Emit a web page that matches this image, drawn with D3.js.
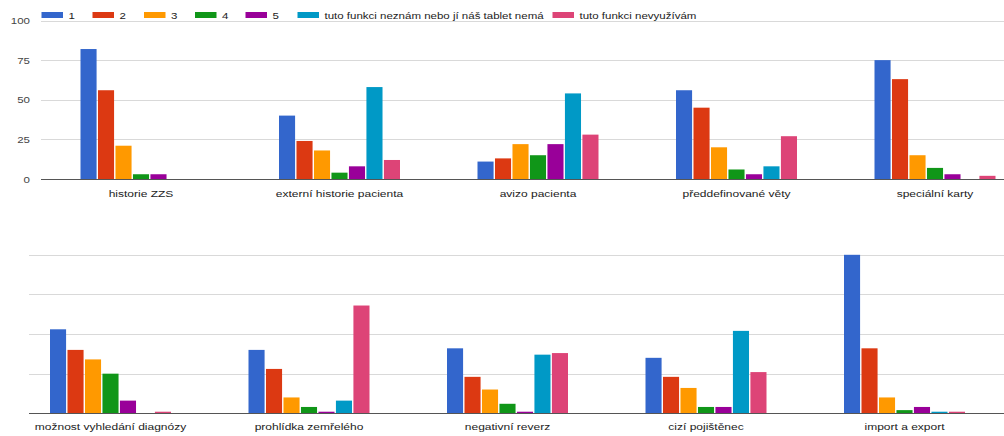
<!DOCTYPE html>
<html>
<head>
<meta charset="utf-8">
<script src="https://cdn.jsdelivr.net/npm/d3@7"></script>
<style>
  html, body { margin: 0; padding: 0; background: #fff; overflow: hidden; }
  svg { display: block; font-family: "Liberation Sans", Arial, sans-serif; }
</style>
</head>
<body>
<svg id="chart" width="1004" height="436"></svg>
<script>
// Answer options (legend order)
const series = ["1", "2", "3", "4", "5", "tuto funkci neznám nebo jí náš tablet nemá", "tuto funkci nevyužívám"];
const colors = ["#3366cc", "#dc3912", "#ff9900", "#109618", "#990099", "#0099c6", "#dd4477"];

// Upper row of features
const categoriesTop = ["historie ZZS", "externí historie pacienta", "avizo pacienta", "předdefinované věty", "speciální karty"];
const valuesTop = [
  [82, 56, 21, 3, 3, 0, 0],
  [40, 24, 18, 4, 8, 58, 12],
  [11, 13, 22, 15, 22, 54, 28],
  [56, 45, 20, 6, 3, 8, 27],
  [75, 63, 15, 7, 3, 0, 2]
];

// Lower row of features
const categoriesBottom = ["možnost vyhledání diagnózy", "prohlídka zemřelého", "negativní reverz", "cizí pojištěnec", "import a export"];
const valuesBottom = [
  [53, 40, 34, 25, 8, 0, 1],
  [40, 28, 10, 4, 1, 8, 68],
  [41, 23, 15, 6, 1, 37, 38],
  [35, 23, 16, 4, 4, 52, 26],
  [100, 41, 10, 2, 4, 1, 1]
];

const yTicks = [0, 25, 50, 75, 100];

const svg = d3.select("#chart");
const W = 1004;
const textScaleY = 0.8;

function label(g, x, y, txt, size, fill, anchor) {
  return g.append("text")
    .attr("transform", `translate(${x},${y}) scale(1,${textScaleY})`)
    .attr("text-anchor", anchor || "start")
    .attr("font-size", size)
    .attr("fill", fill)
    .text(txt);
}

function panel(cfg) {
  const g = svg.append("g");
  const y = d3.scaleLinear().domain([0, 100]).range([cfg.base, cfg.top]);
  const x0 = d3.scaleBand().domain(cfg.categories).range(cfg.xRange).padding(0);
  const groupW = 121;
  const x1 = d3.scaleBand().domain(series)
    .range([(x0.bandwidth() - groupW) / 2, (x0.bandwidth() + groupW) / 2])
    .paddingInner(0.08).paddingOuter(0);

  // gridlines
  g.append("g").selectAll("line")
    .data(yTicks.filter(t => t > 0))
    .join("line")
    .attr("x1", cfg.gridLeft).attr("x2", W)
    .attr("y1", d => Math.round(y(d)) + 0.5).attr("y2", d => Math.round(y(d)) + 0.5)
    .attr("stroke", "#d9d9d9").attr("stroke-width", 1.2);

  // tick labels
  if (cfg.showTicks) {
    yTicks.forEach(t => label(g, 30, y(t) + 3.6, String(t), "11.5px", "#444", "end"));
  }

  // bars
  const groups = g.append("g").selectAll("g")
    .data(cfg.categories.map((c, i) => ({ c, vals: cfg.values[i] })))
    .join("g")
    .attr("transform", d => `translate(${x0(d.c)},0)`);

  groups.selectAll("rect")
    .data(d => d.vals.map((v, j) => ({ v, s: series[j], j })))
    .join("rect")
    .filter(d => d.v > 0)
    .attr("x", d => x1(d.s))
    .attr("width", x1.bandwidth())
    .attr("y", d => y(d.v))
    .attr("height", d => y(0) - y(d.v))
    .attr("fill", d => colors[d.j]);

  // baseline
  g.append("line")
    .attr("x1", cfg.gridLeft).attr("x2", W)
    .attr("y1", Math.round(y(0)) + 0.5).attr("y2", Math.round(y(0)) + 0.5)
    .attr("stroke", "#555").attr("stroke-width", 1.2);

  // category labels
  cfg.categories.forEach(c => {
    label(g, x0(c) + x0.bandwidth() / 2, cfg.labelY, c, "12px", "#222", "middle");
  });
}

panel({
  categories: categoriesTop, values: valuesTop,
  base: 179, top: 20.5, xRange: [41.75, 1034.25],
  gridLeft: 41, showTicks: true, labelY: 197
});

panel({
  categories: categoriesBottom, values: valuesBottom,
  base: 413.3, top: 254.8, xRange: [11.25, 1003.75],
  gridLeft: 29, showTicks: false, labelY: 430
});

// legend
const legend = svg.append("g");
const legendX = [41.5, 92.5, 144, 195, 245.5, 297.5, 552.5];
series.forEach((s, i) => {
  legend.append("rect")
    .attr("x", legendX[i]).attr("y", 12)
    .attr("width", 21.5).attr("height", 6)
    .attr("fill", colors[i]);
  label(legend, legendX[i] + 27, 18.5, s, "11.5px", "#222", "start");
});
</script>
</body>
</html>
